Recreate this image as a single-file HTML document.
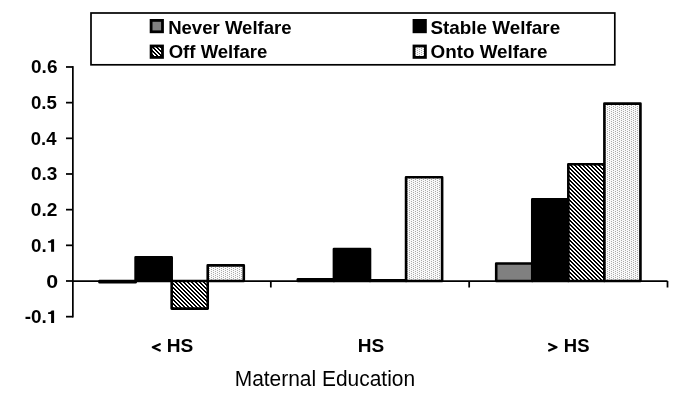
<!DOCTYPE html>
<html><head><meta charset="utf-8"><style>
html,body{margin:0;padding:0;background:#fff;}
body{width:679px;height:410px;overflow:hidden;position:relative;}
svg{position:absolute;left:0;top:0;will-change:transform;}
text{font-family:"Liberation Sans",sans-serif;fill:#000;}
</style></head><body>
<svg width="679" height="410" viewBox="0 0 679 410">
<defs>
<pattern id="hatch" patternUnits="userSpaceOnUse" x="1" y="0" width="4" height="4">
<rect width="4" height="4" fill="#fff"/>
<path d="M0,0h2v1h-2z M1,1h2v1h-2z M2,2h2v1h-2z M3,3h1v1h-1z M0,3h1v1h-1z" fill="#000"/>
</pattern>
<pattern id="dots" patternUnits="userSpaceOnUse" width="4" height="2">
<rect width="4" height="2" fill="#f9f9f9"/>
<rect x="1" y="0" width="1" height="1" fill="#ababab"/>
<rect x="3" y="1" width="1" height="1" fill="#ababab"/>
</pattern>
</defs>
<rect x="91" y="13" width="523.8" height="51.8" fill="none" stroke="#000" stroke-width="1.7"/>
<g stroke="#000" stroke-width="1.75" fill="none">
<line x1="72.85" y1="66.1" x2="72.85" y2="317.5"/>
<line x1="66" y1="316.67" x2="72.85" y2="316.67"/><line x1="66" y1="281.00" x2="72.85" y2="281.00"/><line x1="66" y1="245.33" x2="72.85" y2="245.33"/><line x1="66" y1="209.66" x2="72.85" y2="209.66"/><line x1="66" y1="173.99" x2="72.85" y2="173.99"/><line x1="66" y1="138.32" x2="72.85" y2="138.32"/><line x1="66" y1="102.65" x2="72.85" y2="102.65"/><line x1="66" y1="66.98" x2="72.85" y2="66.98"/>
<line x1="72.85" y1="281.00" x2="667.50" y2="281.00"/>
<line x1="270.83" y1="281.00" x2="270.83" y2="287.5"/><line x1="469.17" y1="281.00" x2="469.17" y2="287.5"/><line x1="667.50" y1="281.00" x2="667.50" y2="287.5"/>
</g>
<rect x="99.55" y="281.00" width="36.06" height="1.20" fill="#808080" stroke="#000" stroke-width="2.6" stroke-linejoin="round"/><rect x="135.61" y="257.30" width="36.06" height="23.70" fill="#000000" stroke="#000" stroke-width="2.6" stroke-linejoin="round"/><rect x="171.67" y="281.00" width="36.06" height="27.60" fill="url(#hatch)" stroke="#000" stroke-width="2.6" stroke-linejoin="round"/><rect x="207.73" y="265.40" width="36.06" height="15.60" fill="url(#dots)" stroke="#000" stroke-width="2.6" stroke-linejoin="round"/><rect x="297.88" y="279.20" width="36.06" height="1.80" fill="#808080" stroke="#000" stroke-width="2.6" stroke-linejoin="round"/><rect x="333.94" y="249.10" width="36.06" height="31.90" fill="#000000" stroke="#000" stroke-width="2.6" stroke-linejoin="round"/><rect x="370.00" y="280.20" width="36.06" height="0.80" fill="url(#hatch)" stroke="#000" stroke-width="2.6" stroke-linejoin="round"/><rect x="406.06" y="177.30" width="36.06" height="103.70" fill="url(#dots)" stroke="#000" stroke-width="2.6" stroke-linejoin="round"/><rect x="496.21" y="263.50" width="36.06" height="17.50" fill="#808080" stroke="#000" stroke-width="2.6" stroke-linejoin="round"/><rect x="532.27" y="199.40" width="36.06" height="81.60" fill="#000000" stroke="#000" stroke-width="2.6" stroke-linejoin="round"/><rect x="568.33" y="164.20" width="36.06" height="116.80" fill="url(#hatch)" stroke="#000" stroke-width="2.6" stroke-linejoin="round"/><rect x="604.39" y="103.60" width="36.06" height="177.40" fill="url(#dots)" stroke="#000" stroke-width="2.6" stroke-linejoin="round"/>
<g stroke="#000" stroke-width="2.8">
<rect x="151.1" y="20.4" width="11.4" height="11.4" fill="#808080"/>
<rect x="151.1" y="46.0" width="11.4" height="11.4" fill="url(#hatch)"/>
<rect x="414.0" y="20.4" width="11.4" height="11.4" fill="#000"/>
<rect x="414.0" y="46.0" width="11.4" height="11.4" fill="url(#dots)"/>
</g>
<text x="31.07" y="73.48" font-size="18.8" font-weight="bold" textLength="26.37" lengthAdjust="spacingAndGlyphs">0.6</text><text x="31.01" y="109.15" font-size="18.8" font-weight="bold" textLength="25.92" lengthAdjust="spacingAndGlyphs">0.5</text><text x="30.84" y="144.82" font-size="18.8" font-weight="bold" textLength="25.73" lengthAdjust="spacingAndGlyphs">0.4</text><text x="30.91" y="180.49" font-size="18.8" font-weight="bold" textLength="26.43" lengthAdjust="spacingAndGlyphs">0.3</text><text x="30.78" y="216.16" font-size="18.8" font-weight="bold" textLength="26.58" lengthAdjust="spacingAndGlyphs">0.2</text><text x="31.08" y="251.83" font-size="18.8" font-weight="bold" textLength="15.66" lengthAdjust="spacingAndGlyphs">0.</text><text x="46.36" y="287.50" font-size="18.8" font-weight="bold" textLength="11.89" lengthAdjust="spacingAndGlyphs">0</text><text x="24.65" y="323.17" font-size="18.8" font-weight="bold" textLength="22.14" lengthAdjust="spacingAndGlyphs">-0.</text><text x="168.14" y="33.50" font-size="18.6" font-weight="bold" textLength="123.55" lengthAdjust="spacingAndGlyphs">Never Welfare</text><text x="168.69" y="58.30" font-size="18.6" font-weight="bold" textLength="98.62" lengthAdjust="spacingAndGlyphs">Off Welfare</text><text x="430.43" y="33.50" font-size="18.6" font-weight="bold" textLength="129.73" lengthAdjust="spacingAndGlyphs">Stable Welfare</text><text x="430.50" y="58.30" font-size="18.6" font-weight="bold" textLength="116.86" lengthAdjust="spacingAndGlyphs">Onto Welfare</text><text x="166.75" y="351.80" font-size="18.8" font-weight="bold" textLength="26.56" lengthAdjust="spacingAndGlyphs">HS</text><text x="357.78" y="351.80" font-size="18.8" font-weight="bold" textLength="26.42" lengthAdjust="spacingAndGlyphs">HS</text><text x="563.87" y="351.80" font-size="18.8" font-weight="bold" textLength="25.66" lengthAdjust="spacingAndGlyphs">HS</text><text x="234.73" y="386.00" font-size="22" font-weight="normal" textLength="180.36" lengthAdjust="spacingAndGlyphs">Maternal Education</text>
<path d="M54.1,239.13 L54.1,251.73 L51.1,251.73 L51.1,242.73 L48.1,242.73 L48.1,240.93 C49.9,240.83 51.2,240.33 51.6,239.13 Z" fill="#000"/><path d="M54.1,310.47 L54.1,323.07 L51.1,323.07 L51.1,314.07 L48.1,314.07 L48.1,312.27 C49.9,312.17 51.2,311.67 51.6,310.47 Z" fill="#000"/>
<g fill="none" stroke="#000" stroke-width="2.2" stroke-linejoin="round" stroke-linecap="round">
<polyline points="159.8,344.2 152.8,347.35 159.8,350.5"/>
<polyline points="549.1,344.0 556.5,347.25 549.1,350.6"/>
</g>
</svg>
</body></html>
